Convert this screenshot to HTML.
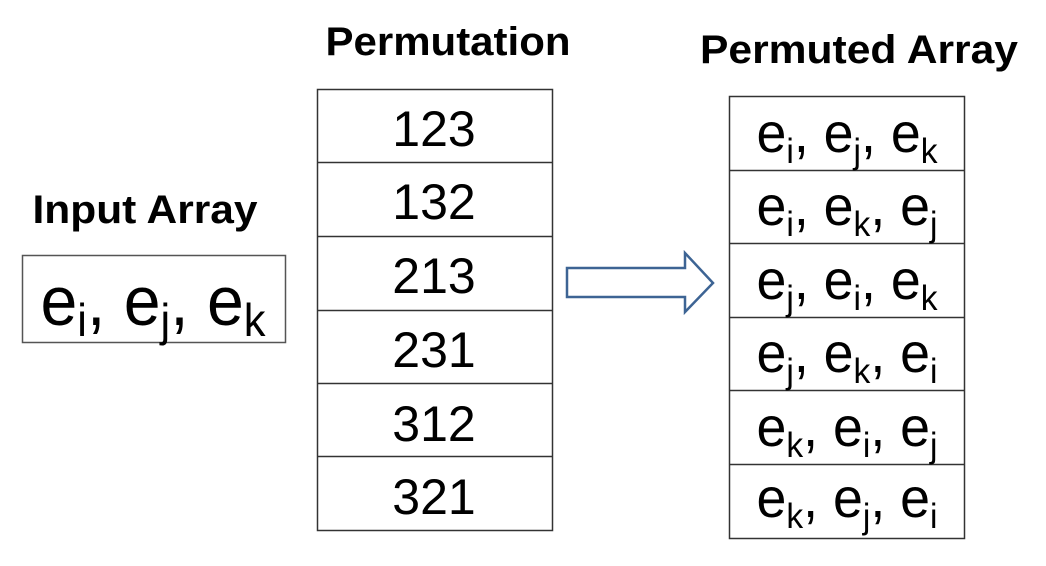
<!DOCTYPE html>
<html><head><meta charset="utf-8"><style>
html,body{margin:0;padding:0;background:#fff;}
svg{display:block;}
text{font-family:"Liberation Sans",Arial,sans-serif;fill:#000;}
</style></head><body>
<svg width="1046" height="566" viewBox="0 0 1046 566" xmlns="http://www.w3.org/2000/svg">
<rect width="1046" height="566" fill="#fff"/>
<text x="448" y="55" font-size="40" font-weight="bold" text-anchor="middle" textLength="245" lengthAdjust="spacingAndGlyphs">Permutation</text>
<text x="859" y="63" font-size="40" font-weight="bold" text-anchor="middle" textLength="318" lengthAdjust="spacingAndGlyphs">Permuted Array</text>
<text x="145" y="223" font-size="40" font-weight="bold" text-anchor="middle" textLength="225" lengthAdjust="spacingAndGlyphs">Input Array</text>

<rect x="22.5" y="255.5" width="263" height="87" fill="none" stroke="#555" stroke-width="1.5"/>
<text x="153" y="325" font-size="70" text-anchor="middle" textLength="225" lengthAdjust="spacingAndGlyphs">e<tspan font-size="46" dy="11">i</tspan><tspan dy="-11">, e</tspan><tspan font-size="46" dy="11">j</tspan><tspan dy="-11">, e</tspan><tspan font-size="46" dy="11">k</tspan></text>

<g fill="none" stroke="#333" stroke-width="1.5">
<rect x="317.5" y="89.5" width="235" height="441"/>
<line x1="317" y1="162.5" x2="553" y2="162.5"/>
<line x1="317" y1="236.5" x2="553" y2="236.5"/>
<line x1="317" y1="310.5" x2="553" y2="310.5"/>
<line x1="317" y1="383.5" x2="553" y2="383.5"/>
<line x1="317" y1="456.5" x2="553" y2="456.5"/>
</g>
<g font-size="50" text-anchor="middle">
<text x="434" y="146">123</text>
<text x="434" y="219">132</text>
<text x="434" y="293">213</text>
<text x="434" y="367">231</text>
<text x="434" y="441">312</text>
<text x="434" y="514">321</text>
</g>

<polygon points="567,268 685,268 685,253 713,283 685,312 685,297 567,297" fill="#fff" stroke="#3d6494" stroke-width="2.5"/>

<g fill="none" stroke="#333" stroke-width="1.5">
<rect x="729.5" y="96.5" width="235" height="442"/>
<line x1="729" y1="170.5" x2="965" y2="170.5"/>
<line x1="729" y1="243.5" x2="965" y2="243.5"/>
<line x1="729" y1="317.5" x2="965" y2="317.5"/>
<line x1="729" y1="390.5" x2="965" y2="390.5"/>
<line x1="729" y1="464.5" x2="965" y2="464.5"/>
</g>
<g font-size="56" text-anchor="middle">
<text x="847" y="152" textLength="181" lengthAdjust="spacingAndGlyphs">e<tspan font-size="35" dy="11">i</tspan><tspan dy="-11">, e</tspan><tspan font-size="35" dy="11">j</tspan><tspan dy="-11">, e</tspan><tspan font-size="35" dy="11">k</tspan></text>
<text x="847" y="225" textLength="181" lengthAdjust="spacingAndGlyphs">e<tspan font-size="35" dy="11">i</tspan><tspan dy="-11">, e</tspan><tspan font-size="35" dy="11">k</tspan><tspan dy="-11">, e</tspan><tspan font-size="35" dy="11">j</tspan></text>
<text x="847" y="299" textLength="181" lengthAdjust="spacingAndGlyphs">e<tspan font-size="35" dy="11">j</tspan><tspan dy="-11">, e</tspan><tspan font-size="35" dy="11">i</tspan><tspan dy="-11">, e</tspan><tspan font-size="35" dy="11">k</tspan></text>
<text x="847" y="372" textLength="181" lengthAdjust="spacingAndGlyphs">e<tspan font-size="35" dy="11">j</tspan><tspan dy="-11">, e</tspan><tspan font-size="35" dy="11">k</tspan><tspan dy="-11">, e</tspan><tspan font-size="35" dy="11">i</tspan></text>
<text x="847" y="446" textLength="181" lengthAdjust="spacingAndGlyphs">e<tspan font-size="35" dy="11">k</tspan><tspan dy="-11">, e</tspan><tspan font-size="35" dy="11">i</tspan><tspan dy="-11">, e</tspan><tspan font-size="35" dy="11">j</tspan></text>
<text x="847" y="517" textLength="181" lengthAdjust="spacingAndGlyphs">e<tspan font-size="35" dy="11">k</tspan><tspan dy="-11">, e</tspan><tspan font-size="35" dy="11">j</tspan><tspan dy="-11">, e</tspan><tspan font-size="35" dy="11">i</tspan></text>
</g>
</svg>
</body></html>
